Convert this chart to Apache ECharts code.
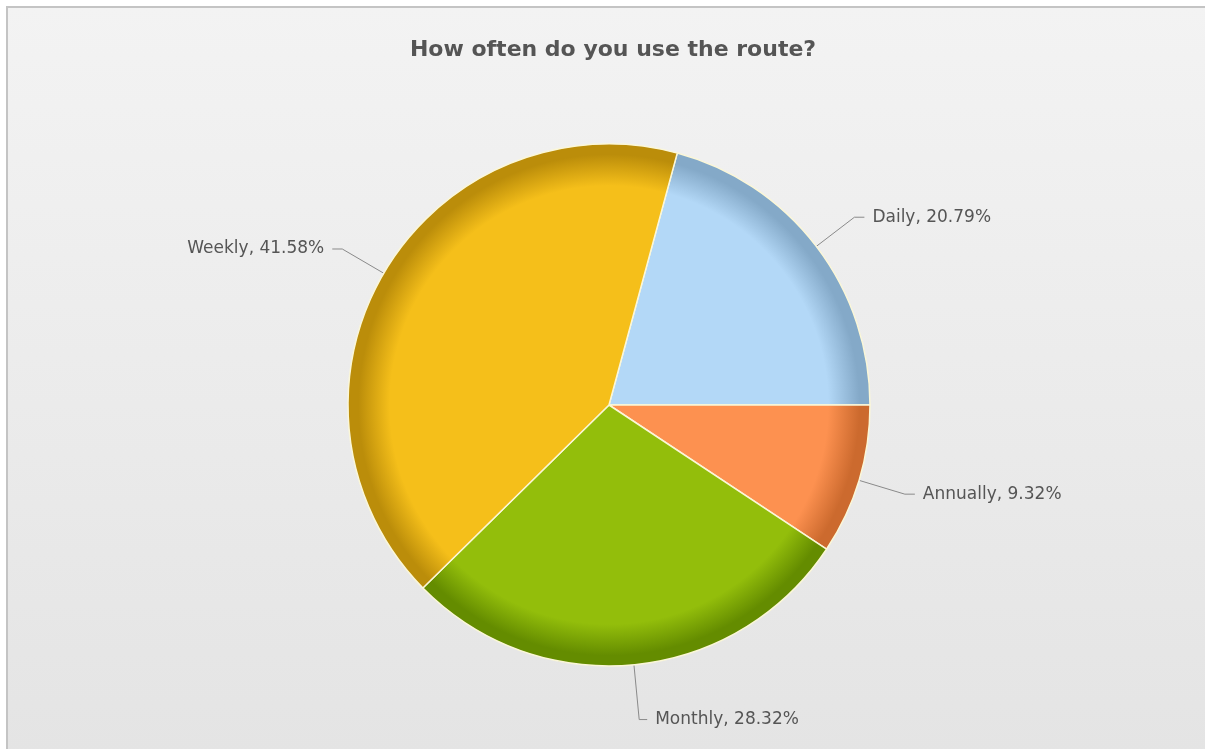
<!DOCTYPE html>
<html><head><meta charset="utf-8">
<script src="https://cdn.jsdelivr.net/npm/echarts@6/dist/echarts.min.js"></script>
<style>html,body{margin:0;padding:0;background:#fff}#c{width:1205px;height:749px}</style>
</head><body><div id="c"></div>
<script>
const titleText = 'How often do you use the route?';
const categories = ['Daily', 'Annually', 'Monthly', 'Weekly'];
const values = [20.79, 9.32, 28.32, 41.58];
const baseColors = ['#b3d8f7', '#fd9150', '#93be0b', '#f5bf1a'];
const rimColors = ['#84a9c8', '#cc6a2e', '#648c00', '#bb8d0a'];

const cx = 609, cy = 405, R = 261;
function grad(i) {
  return {
    type: 'radial', x: cx, y: cy, r: R, global: true,
    colorStops: [
      { offset: 0, color: baseColors[i] },
      { offset: 0.84, color: baseColors[i] },
      { offset: 0.96, color: rimColors[i] },
      { offset: 1, color: rimColors[i] }
    ]
  };
}
const data = categories.map((name, i) => ({
  name, value: values[i],
  itemStyle: { color: grad(i) },
  labelLine: { length: name === 'Monthly' ? 55 : 48, length2: name === 'Monthly' ? 8 : 10 }
}));

const chart = echarts.init(document.getElementById('c'), null, { renderer: 'canvas' });
chart.setOption({
  backgroundColor: '#ffffff',
  animation: false,
  graphic: [{
    type: 'rect', z: -10, silent: true,
    shape: { x: 7, y: 7, width: 1210, height: 745 },
    style: {
      fill: { type: 'linear', x: 0, y: 0, x2: 0, y2: 1, colorStops: [
        { offset: 0, color: '#f3f3f3' }, { offset: 1, color: '#e4e4e4' }] },
      stroke: '#c4c4c4', lineWidth: 2
    }
  }],
  title: {
    text: titleText, left: 608, textAlign: 'center', top: 34,
    textStyle: { fontFamily: 'DejaVu Sans', fontSize: 22, fontWeight: 'bold', color: '#555555' }
  },
  series: [{
    type: 'pie',
    center: [cx, cy],
    radius: R,
    startAngle: 74.84,
    clockwise: true,
    avoidLabelOverlap: false,
    itemStyle: { borderColor: '#fbf7d8', borderWidth: 1.5 },
    label: {
      show: true, position: 'outside', formatter: '{b}, {c}%',
      fontFamily: 'DejaVu Sans', fontSize: 17, color: '#555555',
      distanceToLabelLine: 8
    },
    labelLine: { show: true, lineStyle: { color: '#8a8a8a', width: 1 } },
    emphasis: { disabled: true },
    data
  }]
});
</script></body></html>
